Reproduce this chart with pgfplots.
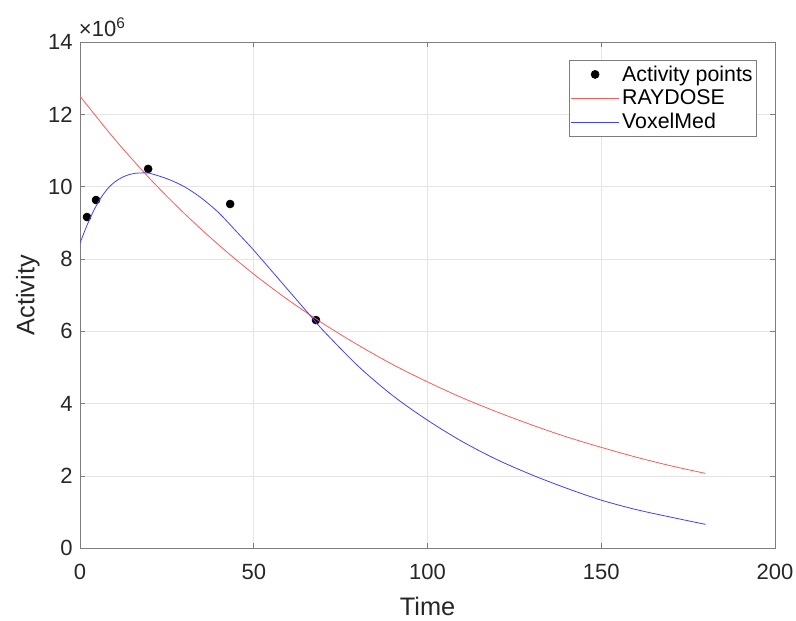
\documentclass[border=0pt]{standalone}
\usepackage{fontspec}
\setmainfont{Liberation Sans}
\usepackage{pgfplots}
\pgfplotsset{compat=1.18}

\definecolor{axgray}{gray}{0.15}
\definecolor{rdose}{rgb}{1,0.35,0.35}
\definecolor{vmed}{rgb}{0.25,0.25,1}

\begin{document}
\begin{tikzpicture}
\useasboundingbox (-60pt,-54pt) rectangle (536.75pt,411pt);
\begin{axis}[
    scale only axis,
    width=521pt, height=379.5pt,
    xmin=0, xmax=200, ymin=0, ymax=14e6,
    xtick={0,50,...,200},
    ytick={0,2e6,4e6,6e6,8e6,10e6,12e6,14e6},
    yticklabels={0,2,4,6,8,10,12,14},
    scaled y ticks=false,
    /pgf/number format/assume math mode=true,
    clip mode=individual,
    font=\fontsize{16.5}{19}\selectfont,
    tick label style={text=axgray},
    xticklabel style={yshift=-8.5pt},
    yticklabel style={xshift=-2pt},
    grid=major,
    major grid style={gray!20, line width=0.5pt},
    axis line style={axgray!60, line width=0.6pt},
    tick style={axgray!60, line width=0.6pt},
    tick align=inside,
    major tick length=4pt,
    xlabel={Time}, ylabel={Activity},
    label style={font=\fontsize{19}{22}\selectfont, text=axgray},
    xlabel style={at={(axis description cs:0.5,-0.1146)}, anchor=center},
    ylabel style={at={(axis description cs:-0.075,0.5)}, anchor=center},
    legend style={at={(rel axis cs:1,1)}, anchor=north east, xshift=-13.5pt, yshift=-13.5pt,
        draw=axgray!60, line width=0.5pt, font=\fontsize{16}{18}\selectfont, text=black,
        row sep=1pt, inner xsep=1pt, inner ysep=2pt},
    legend cell align=left,
    legend image code/.code={\draw[mark repeat=2,mark phase=2,#1] plot coordinates {(0pt,0pt) (18pt,0pt) (36pt,0pt)};},
]
\addplot[only marks, mark=*, mark size=3pt, black] coordinates {
    (2.0, 9.16e6) (4.6, 9.63e6) (19.6, 10.49e6) (43.2, 9.52e6) (67.9, 6.31e6)
};
\addlegendentry{Activity points}

\addplot[rdose, line width=0.6pt, smooth] coordinates {
    (0, 12.50e6) (10, 11.31e6) (20, 10.23e6) (30, 9.26e6) (40, 8.38e6)
    (50, 7.58e6) (60, 6.86e6) (70, 6.21e6) (80, 5.62e6) (90, 5.08e6)
    (100, 4.60e6) (110, 4.16e6) (120, 3.77e6) (130, 3.41e6) (140, 3.08e6)
    (150, 2.79e6) (160, 2.52e6) (170, 2.28e6) (180, 2.07e6)
};
\addlegendentry{RAYDOSE}

\addplot[vmed, line width=0.6pt, smooth] coordinates {
    (0, 8.44e6) (2, 8.93e6) (4, 9.35e6) (6, 9.69e6) (8, 9.95e6) (10, 10.13e6)
    (12, 10.25e6) (14, 10.33e6) (16, 10.37e6) (18, 10.38e6) (20, 10.37e6)
    (25, 10.22e6) (30, 10.00e6) (35, 9.68e6) (40, 9.27e6) (45, 8.76e6)
    (50, 8.24e6) (60, 7.13e6) (67, 6.35e6) (70, 6.02e6) (80, 5.04e6)
    (90, 4.22e6) (100, 3.54e6) (110, 2.95e6) (120, 2.45e6) (130, 2.03e6)
    (140, 1.66e6) (150, 1.33e6) (160, 1.07e6) (170, 0.86e6) (180, 0.66e6)
};
\addlegendentry{VoxelMed}

\node[anchor=south west, inner sep=0pt, text=axgray, xshift=-1pt, yshift=3.5pt]
    at (rel axis cs:0,1) {×10\textsuperscript{6}};
\end{axis}
\end{tikzpicture}
\end{document}
